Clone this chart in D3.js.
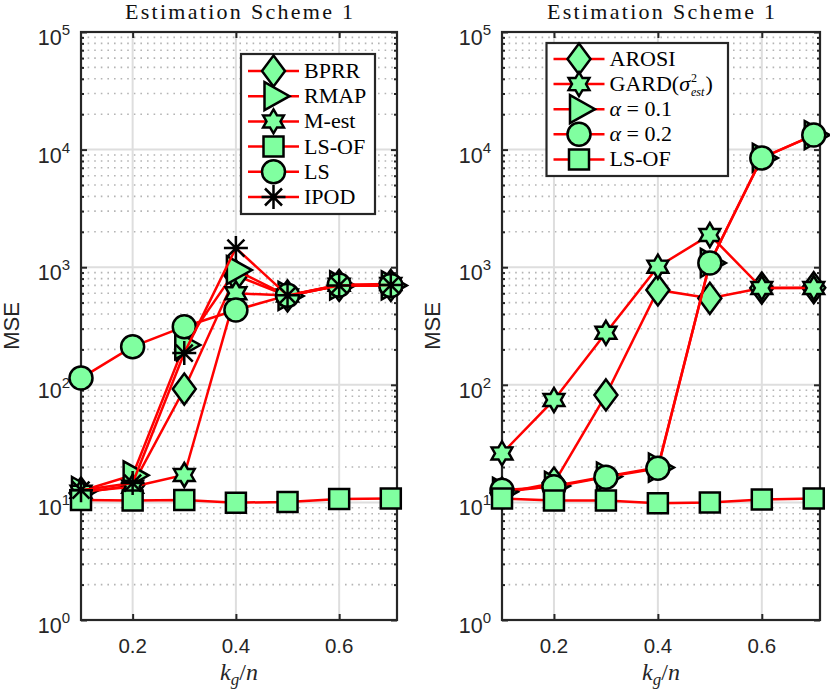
<!DOCTYPE html>
<html>
<head>
<meta charset="utf-8">
<script src="https://cdn.jsdelivr.net/npm/d3@7"></script>
<style>
  body { margin: 0; background: #fff; }
  svg { display: block; }
</style>
</head>
<body>
<div id="chart-container"></div>
<script>
// k_g / n values shared by both panels
var kg = [0.1, 0.2, 0.3, 0.4, 0.5, 0.6, 0.7];

// left panel
var bprr  = [12.0, 14.0, 92, 850, 570, 700, 700];
var rmap  = [12.5, 17.0, 218, 946, 570, 700, 700];
var mest  = [12.3, 13.6, 17.1, 600, 575, 710, 720];
var lsofL = [10.5, 10.4, 10.5, 9.95, 10.1, 10.7, 10.8];
var ls    = [114, 211, 312, 432, 576, 706, 700];
var ipod  = [12.7, 14.6, 186, 1456, 576, 700, 705];

// right panel
var arosi  = [12.0, 14.6, 82, 640, 544, 665, 670];
var gard   = [26.1, 74.3, 277, 1010, 1880, 665, 665];
var alpha1 = [12.3, 13.8, 16.6, 19.8, 1087, 8490, 13300];
var alpha2 = [12.7, 13.6, 16.4, 19.5, 1087, 8490, 13300];
var lsofR  = [10.8, 10.4, 10.4, 9.85, 10.0, 10.6, 10.8];

var xTicks = [0.2, 0.4, 0.6];
var yTicks = [1, 10, 100, 1000, 10000, 100000];

var width = 830, height = 689;
var green = "#80ffa0";
var dark = "#262626";
var sans = "Liberation Sans, Arial, sans-serif";
var serif = "Liberation Serif, serif";

var svg = d3.select("#chart-container")
    .append("svg")
    .attr("width", width)
    .attr("height", height);

svg.append("rect").attr("width", width).attr("height", height).attr("fill", "#fff");

// marker shapes, drawn around 0,0
function marker(g, type) {
  var s = g.append("path")
      .attr("fill", green)
      .attr("stroke", "#000")
      .attr("stroke-width", 2.5)
      .attr("stroke-linejoin", "miter");
  var p = d3.path();
  if (type == "circle") {
    p.arc(0, 0, 11.5, 0, 2 * Math.PI);
  } else if (type == "square") {
    p.rect(-10, -10, 20, 20);
  } else if (type == "diamond") {
    p.moveTo(0, -15.5); p.lineTo(11.5, 0); p.lineTo(0, 15.5); p.lineTo(-11.5, 0); p.closePath();
  } else if (type == "triangle") {
    p.moveTo(-9, -14); p.lineTo(16, 0); p.lineTo(-9, 14); p.closePath();
  } else if (type == "hexagram") {
    for (var i = 0; i < 12; i++) {
      var r = i % 2 == 0 ? 12 : 7;
      var a = -Math.PI / 2 + i * Math.PI / 6;
      if (i == 0) p.moveTo(r * Math.cos(a), r * Math.sin(a));
      else p.lineTo(r * Math.cos(a), r * Math.sin(a));
    }
    p.closePath();
  } else if (type == "asterisk") {
    s.attr("fill", "none");
    p.moveTo(0, -12); p.lineTo(0, 12);
    p.moveTo(-12, 0); p.lineTo(12, 0);
    p.moveTo(-8.5, -8.5); p.lineTo(8.5, 8.5);
    p.moveTo(-8.5, 8.5); p.lineTo(8.5, -8.5);
  }
  s.attr("d", p.toString());
}

function drawPanel(cfg) {
  var x = d3.scaleLinear().domain([0.1, 0.712]).range([cfg.left, cfg.right]);
  var y = d3.scaleLog().domain([1, 100000]).range([620, 32]);
  var g = svg.append("g");

  // minor grid (dotted)
  var minors = [];
  for (var e = 0; e < 5; e++)
    for (var m = 2; m < 10; m++) minors.push(m * Math.pow(10, e));
  g.selectAll(".minor").data(minors).enter().append("line")
      .attr("x1", x.range()[0]).attr("x2", x.range()[1])
      .attr("y1", function(d) { return y(d); })
      .attr("y2", function(d) { return y(d); })
      .attr("stroke", "#b4b4b4")
      .attr("stroke-width", 1.6)
      .attr("stroke-dasharray", "1.6,5");

  // major grid
  g.selectAll(".gx").data(xTicks).enter().append("line")
      .attr("x1", function(d) { return x(d); })
      .attr("x2", function(d) { return x(d); })
      .attr("y1", 32).attr("y2", 620)
      .attr("stroke", "#dedede").attr("stroke-width", 2);
  g.selectAll(".gy").data(yTicks.slice(1, 5)).enter().append("line")
      .attr("x1", x.range()[0]).attr("x2", x.range()[1])
      .attr("y1", function(d) { return y(d); })
      .attr("y2", function(d) { return y(d); })
      .attr("stroke", "#dedede").attr("stroke-width", 2);

  // axes: inside ticks on all four sides
  g.append("g").attr("transform", "translate(0,620)")
      .call(d3.axisTop(x).tickValues(xTicks).tickSize(6).tickFormat(""));
  g.append("g").attr("transform", "translate(0,32)")
      .call(d3.axisBottom(x).tickValues(xTicks).tickSize(6).tickFormat(""));
  g.append("g").attr("transform", "translate(" + cfg.left + ",0)")
      .call(d3.axisRight(y).tickValues(yTicks).tickSize(6).tickFormat(""));
  g.append("g").attr("transform", "translate(" + cfg.right + ",0)")
      .call(d3.axisLeft(y).tickValues(yTicks).tickSize(6).tickFormat(""));
  g.append("g").attr("transform", "translate(" + cfg.left + ",0)")
      .call(d3.axisRight(y).tickValues(minors).tickSize(3).tickFormat(""));
  g.append("g").attr("transform", "translate(" + cfg.right + ",0)")
      .call(d3.axisLeft(y).tickValues(minors).tickSize(3).tickFormat(""));
  g.selectAll(".domain").remove();
  g.selectAll(".tick line").attr("stroke", dark).attr("stroke-width", 2);

  g.append("rect")
      .attr("x", cfg.left).attr("y", 32)
      .attr("width", cfg.right - cfg.left).attr("height", 588)
      .attr("fill", "none").attr("stroke", dark).attr("stroke-width", 2.2);

  // tick labels
  g.selectAll(".xl").data(xTicks).enter().append("text")
      .attr("x", function(d) { return x(d); })
      .attr("y", 653)
      .attr("text-anchor", "middle")
      .attr("font-family", sans)
      .attr("font-size", 20.5)
      .attr("fill", dark)
      .text(function(d) { return d.toFixed(1); });
  var yl = g.selectAll(".yl").data(yTicks).enter().append("text")
      .attr("x", cfg.left - 11)
      .attr("y", function(d) { return y(d) + 13; })
      .attr("text-anchor", "end")
      .attr("font-family", sans)
      .attr("font-size", 21.5)
      .attr("fill", dark);
  yl.append("tspan").text("10");
  yl.append("tspan").attr("dy", -10).attr("font-size", 15)
      .text(function(d) { return Math.round(Math.log10(d)); });

  // axis titles
  var cx = (cfg.left + cfg.right) / 2;
  g.append("text")
      .attr("transform", "translate(" + (cfg.left - 62) + ",326) rotate(-90)")
      .attr("text-anchor", "middle")
      .attr("font-family", sans)
      .attr("font-size", 22)
      .attr("fill", dark)
      .text("MSE");
  var xt = g.append("text")
      .attr("x", cx).attr("y", 680)
      .attr("text-anchor", "middle")
      .attr("font-family", serif)
      .attr("font-size", 24)
      .attr("fill", dark);
  xt.append("tspan").attr("font-style", "italic").text("k");
  xt.append("tspan").attr("font-style", "italic").attr("font-size", 17).attr("dy", 5).text("g");
  xt.append("tspan").attr("dy", -5).text("/");
  xt.append("tspan").attr("font-style", "italic").text("n");

  g.append("text")
      .attr("x", cx).attr("y", 19)
      .attr("text-anchor", "middle")
      .attr("font-family", serif)
      .attr("font-size", 22)
      .attr("textLength", 228)
      .attr("lengthAdjust", "spacing")
      .attr("fill", "#111")
      .text("Estimation Scheme 1");

  // series: line, then markers, in legend order
  var line = d3.line()
      .x(function(d, i) { return x(kg[i]); })
      .y(function(d) { return y(d); });
  cfg.series.forEach(function(s) {
    g.append("path")
        .attr("d", line(s.values))
        .attr("fill", "none")
        .attr("stroke", "#ff0000")
        .attr("stroke-width", 2.5);
    s.values.forEach(function(v, i) {
      var mg = g.append("g").attr("transform", "translate(" + x(kg[i]) + "," + y(v) + ")");
      marker(mg, s.marker);
    });
  });

  // legend
  var L = cfg.legend;
  var lg = g.append("g");
  lg.append("rect")
      .attr("x", L.x).attr("y", L.y)
      .attr("width", L.w).attr("height", L.h)
      .attr("fill", "#fff").attr("stroke", dark).attr("stroke-width", 2.2);
  cfg.series.forEach(function(s, i) {
    var yy = L.y + L.first + i * L.step;
    lg.append("line")
        .attr("x1", L.x + 7).attr("x2", L.x + 58)
        .attr("y1", yy).attr("y2", yy)
        .attr("stroke", "#ff0000").attr("stroke-width", 2.5);
    var mg = lg.append("g").attr("transform", "translate(" + (L.x + 32.5) + "," + yy + ")");
    marker(mg, s.marker);
    s.label(lg, L.x + 63, yy + 7);
  });
}

function legendText(g, x, y) {
  return g.append("text")
      .attr("x", x).attr("y", y)
      .attr("font-family", serif)
      .attr("font-size", 22)
      .attr("fill", "#000");
}
function plain(str) {
  return function(g, x, y) { legendText(g, x, y).text(str); };
}
function alphaLabel(v) {
  return function(g, x, y) {
    var t = legendText(g, x, y);
    t.append("tspan").attr("font-style", "italic").text("\u03b1");
    t.append("tspan").text(" = " + v);
  };
}
function gardLabel(g, x, y) {
  var t = legendText(g, x, y);
  t.append("tspan").text("GARD(");
  t.append("tspan").attr("font-style", "italic").text("\u03c3");
  var w = t.node().getComputedTextLength();
  legendText(g, x + w + 1, y - 9).attr("font-size", 12).text("2");
  var sub = legendText(g, x + w + 1, y + 5).attr("font-size", 12)
      .attr("font-style", "italic").text("est");
  var sw = sub.node().getComputedTextLength();
  legendText(g, x + w + sw + 2, y).text(")");
}

drawPanel({
  left: 81, right: 397,
  series: [
    { values: bprr,  marker: "diamond",  label: plain("BPRR") },
    { values: rmap,  marker: "triangle", label: plain("RMAP") },
    { values: mest,  marker: "hexagram", label: plain("M-est") },
    { values: lsofL, marker: "square",   label: plain("LS-OF") },
    { values: ls,    marker: "circle",   label: plain("LS") },
    { values: ipod,  marker: "asterisk", label: plain("IPOD") }
  ],
  legend: { x: 241, y: 54, w: 134, h: 160, first: 17, step: 25.2 }
});

drawPanel({
  left: 502, right: 820,
  series: [
    { values: arosi,  marker: "diamond",  label: plain("AROSI") },
    { values: gard,   marker: "hexagram", label: gardLabel },
    { values: alpha1, marker: "triangle", label: alphaLabel("0.1") },
    { values: alpha2, marker: "circle",   label: alphaLabel("0.2") },
    { values: lsofR,  marker: "square",   label: plain("LS-OF") }
  ],
  legend: { x: 546.5, y: 43, w: 181.5, h: 133, first: 16, step: 25.1 }
});
</script>
</body>
</html>
